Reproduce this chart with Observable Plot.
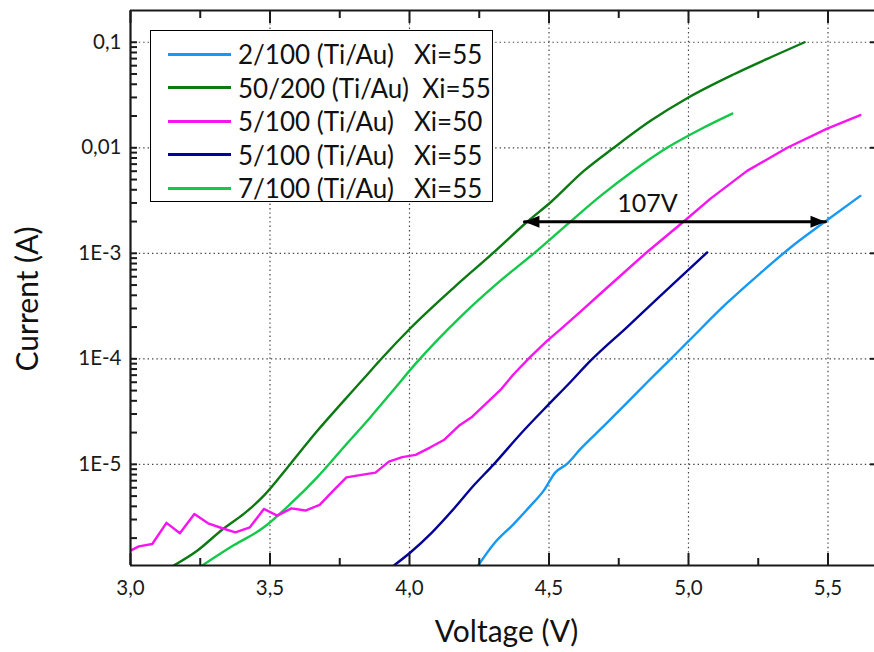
<!DOCTYPE html>
<html><head><meta charset="utf-8">
<script src="https://cdn.jsdelivr.net/npm/d3@7"></script>
<script src="https://cdn.jsdelivr.net/npm/@observablehq/plot@0.6"></script>
<style>
body{margin:0;background:#fff;font-family:Lato,sans-serif;}
#wrap{position:relative;width:874px;height:652px;overflow:hidden;}
#legend{position:absolute;left:150px;top:30px;width:341px;height:170px;border:1.6px solid #000;background:#fff;}
.row{position:absolute;left:0;height:34px;display:flex;align-items:center;font-size:26px;white-space:pre;color:#111;}
.sw{width:63px;height:3px;margin-left:17px;margin-right:7px;}
</style></head><body><div id="wrap"></div>
<script>
// Series names and colours
const names = ["2/100 (Ti/Au)   Xi=55", "50/200 (Ti/Au)  Xi=55", "5/100 (Ti/Au)   Xi=50", "5/100 (Ti/Au)   Xi=55", "7/100 (Ti/Au)   Xi=55"];
const colors = ["#1799F3", "#0B7A12", "#F614F0", "#030398", "#14C84A"];

// 2/100 Xi=55
const v_2_100 = [4.246, 4.302, 4.374, 4.434, 4.481, 4.523, 4.565, 4.613, 4.696, 4.780, 4.852, 4.935, 5.000, 5.139, 5.258, 5.377, 5.485, 5.616];
const i_2_100 = [1.1e-6, 1.76e-6, 2.73e-6, 4.06e-6, 5.64e-6, 8.4e-6, 1.01e-5, 1.40e-5, 2.3e-5, 3.85e-5, 6.0e-5, 9.9e-5, 1.47e-4, 3.4e-4, 6.5e-4, 1.2e-3, 1.96e-3, 3.5e-3];
// 50/200 Xi=55
const v_50_200 = [3.155, 3.239, 3.334, 3.406, 3.478, 3.573, 3.669, 3.753, 3.836, 3.896, 4.004, 4.159, 4.302, 4.422, 4.505, 4.625, 4.732, 4.864, 4.995, 5.163, 5.305, 5.416];
const i_50_200 = [1.1e-6, 1.52e-6, 2.47e-6, 3.39e-6, 5.05e-6, 1.01e-5, 2.07e-5, 3.7e-5, 6.5e-5, 9.8e-5, 1.96e-4, 4.74e-4, 1.02e-3, 1.99e-3, 3.03e-3, 6.04e-3, 0.01, 0.018, 0.0295, 0.0498, 0.0741, 0.1];
// 5/100 Xi=50
const v_5_100_50 = [3.0, 3.030, 3.078, 3.129, 3.177, 3.229, 3.278, 3.329, 3.376, 3.428, 3.478, 3.526, 3.577, 3.627, 3.678, 3.727, 3.774, 3.828, 3.878, 3.926, 3.974, 4.022, 4.075, 4.123, 4.177, 4.225, 4.279, 4.326, 4.374, 4.434, 4.493, 4.541, 4.613, 4.685, 4.840, 4.983, 5.079, 5.210, 5.354, 5.497, 5.616];
const i_5_100_50 = [1.52e-6, 1.67e-6, 1.76e-6, 2.79e-6, 2.22e-6, 3.39e-6, 2.76e-6, 2.48e-6, 2.27e-6, 2.53e-6, 3.78e-6, 3.27e-6, 3.83e-6, 3.65e-6, 4.13e-6, 5.64e-6, 7.53e-6, 7.94e-6, 8.34e-6, 1.06e-5, 1.17e-5, 1.23e-5, 1.45e-5, 1.70e-5, 2.32e-5, 2.83e-5, 3.87e-5, 5.07e-5, 7.18e-5, 1.05e-4, 1.48e-4, 1.9e-4, 2.8e-4, 4.16e-4, 9.68e-4, 2.0e-3, 3.3e-3, 6.04e-3, 0.01, 0.0152, 0.0204];
// 5/100 Xi=55
const v_5_100_55 = [3.944, 4.004, 4.081, 4.159, 4.230, 4.302, 4.398, 4.499, 4.571, 4.649, 4.780, 4.900, 4.983, 5.067];
const i_5_100_55 = [1.1e-6, 1.47e-6, 2.27e-6, 3.8e-6, 6.3e-6, 1.0e-5, 1.94e-5, 3.7e-5, 5.8e-5, 9.6e-5, 2.0e-4, 3.97e-4, 6.34e-4, 1.02e-3];
// 7/100 Xi=55
const v_7_100 = [3.257, 3.358, 3.478, 3.573, 3.669, 3.765, 3.860, 3.938, 4.022, 4.183, 4.326, 4.446, 4.577, 4.685, 4.804, 4.923, 5.043, 5.157];
const i_7_100 = [1.1e-6, 1.64e-6, 2.53e-6, 4.21e-6, 7.53e-6, 1.46e-5, 2.8e-5, 4.9e-5, 9.0e-5, 2.5e-4, 5.5e-4, 1.0e-3, 2.0e-3, 3.5e-3, 6.1e-3, 0.01, 0.0150, 0.0211];

// Annotation
const arrowV = [4.412, 5.491];
const arrowI = 1.99e-3;
const arrowLabel = "107V";
const arrowLabelV = 4.853;
const arrowLabelI = 2.95e-3;

// Axes
const xMajor = [3.0, 3.5, 4.0, 4.5, 5.0, 5.5];
const xMajorLabels = ["3,0", "3,5", "4,0", "4,5", "5,0", "5,5"];
const xMinor = [3.25, 3.75, 4.25, 4.75, 5.25];
const xGrid = [3.5, 4.0, 4.5, 5.0, 5.5];
const yDecades = [1e-5, 1e-4, 1e-3, 1e-2, 1e-1];
const yDecadeLabels = ["1E-5", "1E-4", "1E-3", "0,01", "0,1"];
const yMinorDigits = [2, 3, 4, 5, 6, 7, 8, 9];
const yMinorExps = [-6, -5, -4, -3, -2];
const xDomain = [3, 5.6667];
const yDomain = [1.1e-6, 0.2];

const seriesV = [v_2_100, v_50_200, v_5_100_50, v_5_100_55, v_7_100];
const seriesI = [i_2_100, i_50_200, i_5_100_50, i_5_100_55, i_7_100];
const rows = names.flatMap((s, k) => seriesV[k].map((v, j) => ({s, v, i: seriesI[k][j]})));
const noisy = names[2];
const yMinor = yMinorExps.flatMap(e => yMinorDigits.map(d => +(d + "e" + e)));
const yAllTicks = [...yDecades, ...yMinor].filter(t => t >= yDomain[0] && t <= yDomain[1]);

const triRight = {draw(c) { c.moveTo(0, 0); c.lineTo(-15, -6); c.lineTo(-15, 6); c.closePath(); }};
const triLeft = {draw(c) { c.moveTo(0, 0); c.lineTo(15, -6); c.lineTo(15, 6); c.closePath(); }};

const dots = {stroke: "#444", strokeOpacity: 1, strokeWidth: 1.2, strokeDasharray: "1.4,3"};

const chart = Plot.plot({
  width: 874, height: 652,
  marginLeft: 130, marginRight: 0, marginTop: 10, marginBottom: 87,
  style: {fontFamily: "Lato, sans-serif", fontSize: "20px", color: "#1a1a1a", background: "#fff"},
  x: {domain: xDomain, label: null},
  y: {type: "log", domain: yDomain, label: null},
  color: {domain: names, range: colors},
  marks: [
    Plot.gridX(xGrid, dots),
    Plot.gridY(yDecades, dots),
    Plot.line(rows.filter(d => d.s !== noisy), {x: "v", y: "i", z: "s", stroke: "s", strokeWidth: 2.4, curve: "monotone-x", clip: true}),
    Plot.line(rows.filter(d => d.s === noisy), {x: "v", y: "i", z: "s", stroke: "s", strokeWidth: 2.4, strokeLinejoin: "round", clip: true}),
    // arrow annotation
    Plot.line(arrowV, {x: d => d, y: () => arrowI, stroke: "#000", strokeWidth: 3}),
    Plot.dot([arrowV[1]], {x: d => d, y: () => arrowI, symbol: triRight, fill: "#000", r: 5}),
    Plot.dot([arrowV[0]], {x: d => d, y: () => arrowI, symbol: triLeft, fill: "#000", r: 5}),
    Plot.text([arrowLabel], {x: () => arrowLabelV, y: () => arrowLabelI, text: d => d, fontSize: 25, fill: "#111"}),
    // frame
    Plot.ruleX([xDomain[0]], {strokeWidth: 2.2}),
    Plot.ruleY([yDomain[0]], {strokeWidth: 2.2}),
    Plot.ruleY([yDomain[1]], {strokeWidth: 2.2}),
    // inward ticks
    Plot.axisY(yAllTicks, {anchor: "left", tickSize: 7, dx: 7, strokeWidth: 2, tickFormat: () => "", label: null}),
    Plot.axisY(yDecades, {anchor: "right", tickSize: 5, dx: -5, strokeWidth: 2, tickFormat: () => "", label: null}),
    Plot.axisX(xMajor, {anchor: "bottom", tickSize: 12, dy: -12, strokeWidth: 2, tickFormat: () => "", label: null}),
    Plot.axisX(xMinor, {anchor: "bottom", tickSize: 7, dy: -7, strokeWidth: 2, tickFormat: () => "", label: null}),
    Plot.axisX(xMajor, {anchor: "top", tickSize: 12, dy: 12, strokeWidth: 2, tickFormat: () => "", label: null}),
    Plot.axisX(xMinor, {anchor: "top", tickSize: 7, dy: 7, strokeWidth: 2, tickFormat: () => "", label: null}),
    // tick labels
    Plot.axisX(xMajor, {anchor: "bottom", tickSize: 0, tickPadding: 15, fontSize: 20.5, tickFormat: d => xMajorLabels[xMajor.indexOf(d)], label: null}),
    Plot.axisY(yDecades, {anchor: "left", tickSize: 0, tickPadding: 9, fontSize: 20.5, tickFormat: d => yDecadeLabels[yDecades.indexOf(d)], label: null}),
    // axis titles
    Plot.text(["Voltage (V)"], {frameAnchor: "bottom", lineAnchor: "middle", textAnchor: "middle", dy: 67, dx: 4, fontSize: 30, fill: "#111"}),
    Plot.text(["Current (A)"], {frameAnchor: "left", lineAnchor: "middle", textAnchor: "middle", dx: -102, dy: 11, rotate: -90, fontSize: 30, fill: "#111"})
  ]
});

const wrap = document.getElementById("wrap");
wrap.appendChild(chart);

// Legend overlay
const legend = document.createElement("div");
legend.id = "legend";
names.forEach((n, k) => {
  const row = document.createElement("div");
  row.className = "row";
  row.style.top = (6 + k * 33.5) + "px";
  const sw = document.createElement("span");
  sw.className = "sw";
  sw.style.background = colors[k];
  const t = document.createElement("span");
  t.textContent = n;
  row.appendChild(sw);
  row.appendChild(t);
  legend.appendChild(row);
});
wrap.appendChild(legend);
</script>
</body></html>
